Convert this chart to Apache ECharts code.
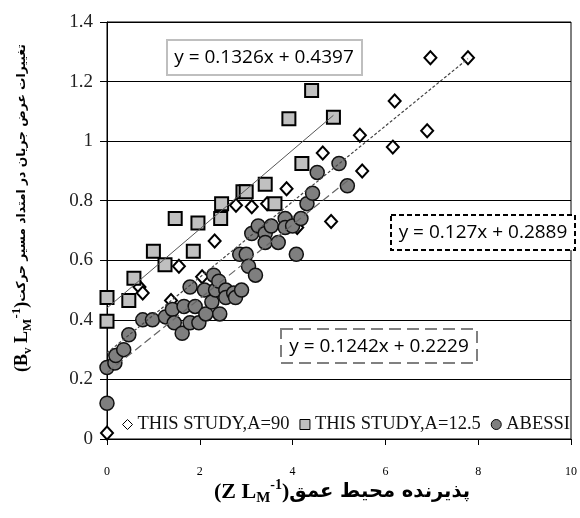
<!DOCTYPE html>
<html>
<head>
<meta charset="utf-8">
<script src="https://cdn.jsdelivr.net/npm/echarts@6/dist/echarts.min.js"></script>
<style>
  html, body { margin: 0; padding: 0; background: #fff; }
  #chart { width: 580px; height: 518px; }
</style>
</head>
<body>
<div id="chart"></div>
<script>
// tick labels
const xTicks = [0, 2, 4, 6, 8, 10];
const yTicks = [0, 0.2, 0.4, 0.6, 0.8, 1, 1.2, 1.4];

const seriesNames = ['THIS STUDY,A=90', 'THIS STUDY,A=12.5', 'ABESSI'];

// THIS STUDY, A=90 (diamonds)
const a90X = [0, 0.7, 0.77, 1.38, 1.55, 2.05, 2.32, 2.78, 3.12, 3.45, 3.87, 4.1, 4.65, 4.83, 5.45, 5.5, 6.16, 6.2, 6.9, 6.97, 7.78];
const a90Y = [0.02, 0.51, 0.49, 0.465, 0.58, 0.545, 0.665, 0.785, 0.78, 0.79, 0.84, 0.71, 0.96, 0.73, 1.02, 0.9, 0.98, 1.135, 1.035, 1.28, 1.28];

// THIS STUDY, A=12.5 (squares)
const a125X = [0, 0, 0.47, 0.58, 1.0, 1.25, 1.47, 1.86, 1.96, 2.45, 2.47, 2.93, 3.0, 3.41, 3.62, 3.92, 4.2, 4.41, 4.88];
const a125Y = [0.475, 0.395, 0.465, 0.54, 0.63, 0.585, 0.74, 0.63, 0.725, 0.74, 0.79, 0.83, 0.83, 0.855, 0.79, 1.075, 0.925, 1.17, 1.08];

// ABESSI (circles)
const abessiX = [0, 0, 0.17, 0.19, 0.36, 0.47, 0.77, 0.98, 1.26, 1.41, 1.45, 1.62, 1.66, 1.79, 1.9, 1.79, 1.98, 2.13, 2.1, 2.26,
  2.3, 2.34, 2.43, 2.41, 2.56, 2.56, 2.73, 2.77, 2.9, 2.86, 3.0, 3.05, 3.2, 3.12, 3.26, 3.41, 3.41, 3.54, 3.69, 3.84,
  3.84, 4.0, 4.08, 4.18, 4.31, 4.43, 4.53, 5.0, 5.18];
const abessiY = [0.12, 0.24, 0.255, 0.28, 0.3, 0.35, 0.4, 0.4, 0.41, 0.435, 0.39, 0.355, 0.445, 0.51, 0.445, 0.39, 0.39, 0.42, 0.5, 0.46,
  0.55, 0.5, 0.42, 0.53, 0.5, 0.475, 0.49, 0.475, 0.5, 0.62, 0.62, 0.58, 0.55, 0.69, 0.715, 0.69, 0.66, 0.715, 0.66, 0.74,
  0.71, 0.715, 0.62, 0.74, 0.79, 0.825, 0.895, 0.925, 0.85];

// linear trend lines as printed on the chart: [A=90, A=12.5, ABESSI]
const trendSlope = [0.127, 0.1326, 0.1242];
const trendIntercept = [0.2889, 0.4397, 0.2229];
const trendXEnd = [7.78, 4.88, 5.2];
const trendLabels = ['y = 0.127x + 0.2889', 'y = 0.1326x + 0.4397', 'y = 0.1242x + 0.2229'];

const zip = (xs, ys) => xs.map((x, i) => [x, ys[i]]);
const trend = (i) => [
  [0, trendIntercept[i]],
  [trendXEnd[i], trendSlope[i] * trendXEnd[i] + trendIntercept[i]]
];

const chart = echarts.init(document.getElementById('chart'));

const eqFont = '"Open Sans", "Liberation Sans", sans-serif';
const centered = { align: 'center', verticalAlign: 'middle', textAlign: 'center', textVerticalAlign: 'middle' };

chart.setOption({
  animation: false,
  backgroundColor: '#fff',
  grid: {
    left: 107, right: 4, top: 22, bottom: 79,
    show: true, borderColor: '#000', borderWidth: 1
  },
  xAxis: {
    type: 'value',
    min: xTicks[0], max: xTicks[xTicks.length - 1], interval: xTicks[1] - xTicks[0],
    axisLine: { show: true, lineStyle: { color: '#000', width: 1 } },
    axisTick: { show: true, length: 6, lineStyle: { color: '#000' } },
    axisLabel: { margin: 27, fontSize: 12, fontFamily: 'Liberation Serif', color: '#000' },
    splitLine: { show: false }
  },
  yAxis: {
    type: 'value',
    min: yTicks[0], max: yTicks[yTicks.length - 1], interval: 0.2,
    axisLine: { show: true, lineStyle: { color: '#000', width: 1 } },
    axisTick: { show: true, length: 7, lineStyle: { color: '#000' } },
    axisLabel: { margin: 14, fontSize: 19, fontFamily: 'Liberation Serif', color: '#222' },
    splitLine: { show: true, lineStyle: { color: '#000', width: 1 } }
  },
  legend: {
    left: 117, top: 410,
    itemWidth: 10, itemHeight: 10, itemGap: 10,
    textStyle: { fontFamily: 'Liberation Serif', fontSize: 18.5, color: '#111' },
    data: [
      { name: seriesNames[0], icon: 'diamond', itemStyle: { color: '#fff', borderColor: '#000', borderWidth: 1 } },
      { name: seriesNames[1], icon: 'rect', itemStyle: { color: '#c0c0c0', borderColor: '#000', borderWidth: 1 } },
      { name: seriesNames[2], icon: 'circle', itemStyle: { color: '#7f7f7f', borderColor: '#000', borderWidth: 1 } }
    ]
  },
  series: [
    {
      name: seriesNames[0], type: 'scatter', data: zip(a90X, a90Y),
      symbol: 'diamond', symbolSize: [12, 13], z: 2,
      itemStyle: { color: '#fff', borderColor: '#000', borderWidth: 2, opacity: 1 }
    },
    {
      name: seriesNames[1], type: 'scatter', data: zip(a125X, a125Y),
      symbol: 'rect', symbolSize: 13, z: 3,
      itemStyle: { color: '#c0c0c0', borderColor: '#000', borderWidth: 2, opacity: 1 }
    },
    {
      name: seriesNames[2], type: 'scatter', data: zip(abessiX, abessiY),
      symbol: 'circle', symbolSize: 14, z: 4,
      itemStyle: { color: '#7f7f7f', borderColor: '#111', borderWidth: 1.5, opacity: 1 }
    },
    {
      name: 'trend90', type: 'line', data: trend(0), symbol: 'none', silent: true, z: 6,
      lineStyle: { color: '#444', width: 1.2, type: [3, 2] }
    },
    {
      name: 'trend125', type: 'line', data: trend(1), symbol: 'none', silent: true, z: 6,
      lineStyle: { color: '#555', width: 1, type: 'solid' }
    },
    {
      name: 'trendAbessi', type: 'line', data: trend(2), symbol: 'none', silent: true, z: 6,
      lineStyle: { color: '#666', width: 1.2, type: [8, 4] }
    }
  ],
  graphic: [
    {
      type: 'rect', z: 10, shape: { x: 167, y: 40, width: 195, height: 35 },
      style: { fill: '#fff', stroke: '#bfbfbf', lineWidth: 2 }
    },
    {
      type: 'text', z: 11, x: 264, y: 58,
      style: Object.assign({ text: trendLabels[1], font: '19px ' + eqFont, fill: '#000' }, centered)
    },
    {
      type: 'rect', z: 10, shape: { x: 391, y: 215, width: 184, height: 35 },
      style: { fill: '#fff', stroke: '#000', lineWidth: 2, lineDash: [5, 3] }
    },
    {
      type: 'text', z: 11, x: 483, y: 233,
      style: Object.assign({ text: trendLabels[0], font: '19px ' + eqFont, fill: '#000' }, centered)
    },
    {
      type: 'rect', z: 10, shape: { x: 281, y: 329, width: 196, height: 34 },
      style: { fill: '#fff', stroke: '#808080', lineWidth: 2, lineDash: [12, 6] }
    },
    {
      type: 'text', z: 11, x: 379, y: 347,
      style: Object.assign({ text: trendLabels[2], font: '19px ' + eqFont, fill: '#000' }, centered)
    },
    // y axis title
    {
      type: 'text', z: 11, x: 22, y: 208, rotation: Math.PI / 2,
      style: Object.assign({
        text: '{b|(B}{sub|v}{b| L}{sub|M}{sup|-1}{b|)}{fa|تغییرات عرض جریان در امتداد مسیر حرکت}',
        rich: {
          b: { fontFamily: 'Liberation Serif', fontWeight: 'bold', fontSize: 18, fill: '#000', lineHeight: 24, verticalAlign: 'middle' },
          sub: { fontFamily: 'Liberation Serif', fontWeight: 'bold', fontSize: 13, fill: '#000', lineHeight: 24, verticalAlign: 'bottom' },
          sup: { fontFamily: 'Liberation Serif', fontWeight: 'bold', fontSize: 13, fill: '#000', lineHeight: 24, verticalAlign: 'top' },
          fa: { fontFamily: 'DejaVu Sans', fontWeight: 'bold', fontSize: 12.3, fill: '#000', lineHeight: 24, verticalAlign: 'middle' }
        }
      }, centered)
    },
    // x axis title (words placed in the order they appear on the original)
    {
      type: 'text', z: 11, x: 342, y: 492,
      style: Object.assign({
        text: '{b|(Z L}{sub|M}{sup|-1}{b|)}{w1|عمق }{w2|محیط }{w3|پذیرنده}',
        rich: {
          b: { fontFamily: 'Liberation Serif', fontWeight: 'bold', fontSize: 22, fill: '#000', lineHeight: 28, verticalAlign: 'middle' },
          sub: { fontFamily: 'Liberation Serif', fontWeight: 'bold', fontSize: 15, fill: '#000', lineHeight: 28, verticalAlign: 'bottom' },
          sup: { fontFamily: 'Liberation Serif', fontWeight: 'bold', fontSize: 14, fill: '#000', lineHeight: 28, verticalAlign: 'top' },
          w1: { fontFamily: 'DejaVu Sans', fontWeight: 'bold', fontSize: 19.5, fill: '#000', lineHeight: 28, verticalAlign: 'middle' },
          w2: { fontFamily: 'DejaVu Sans', fontWeight: 'bold', fontSize: 19.5, fill: '#000', lineHeight: 28, verticalAlign: 'middle' },
          w3: { fontFamily: 'DejaVu Sans', fontWeight: 'bold', fontSize: 19.5, fill: '#000', lineHeight: 28, verticalAlign: 'middle' }
        }
      }, centered)
    }
  ]
});
</script>
</body>
</html>
